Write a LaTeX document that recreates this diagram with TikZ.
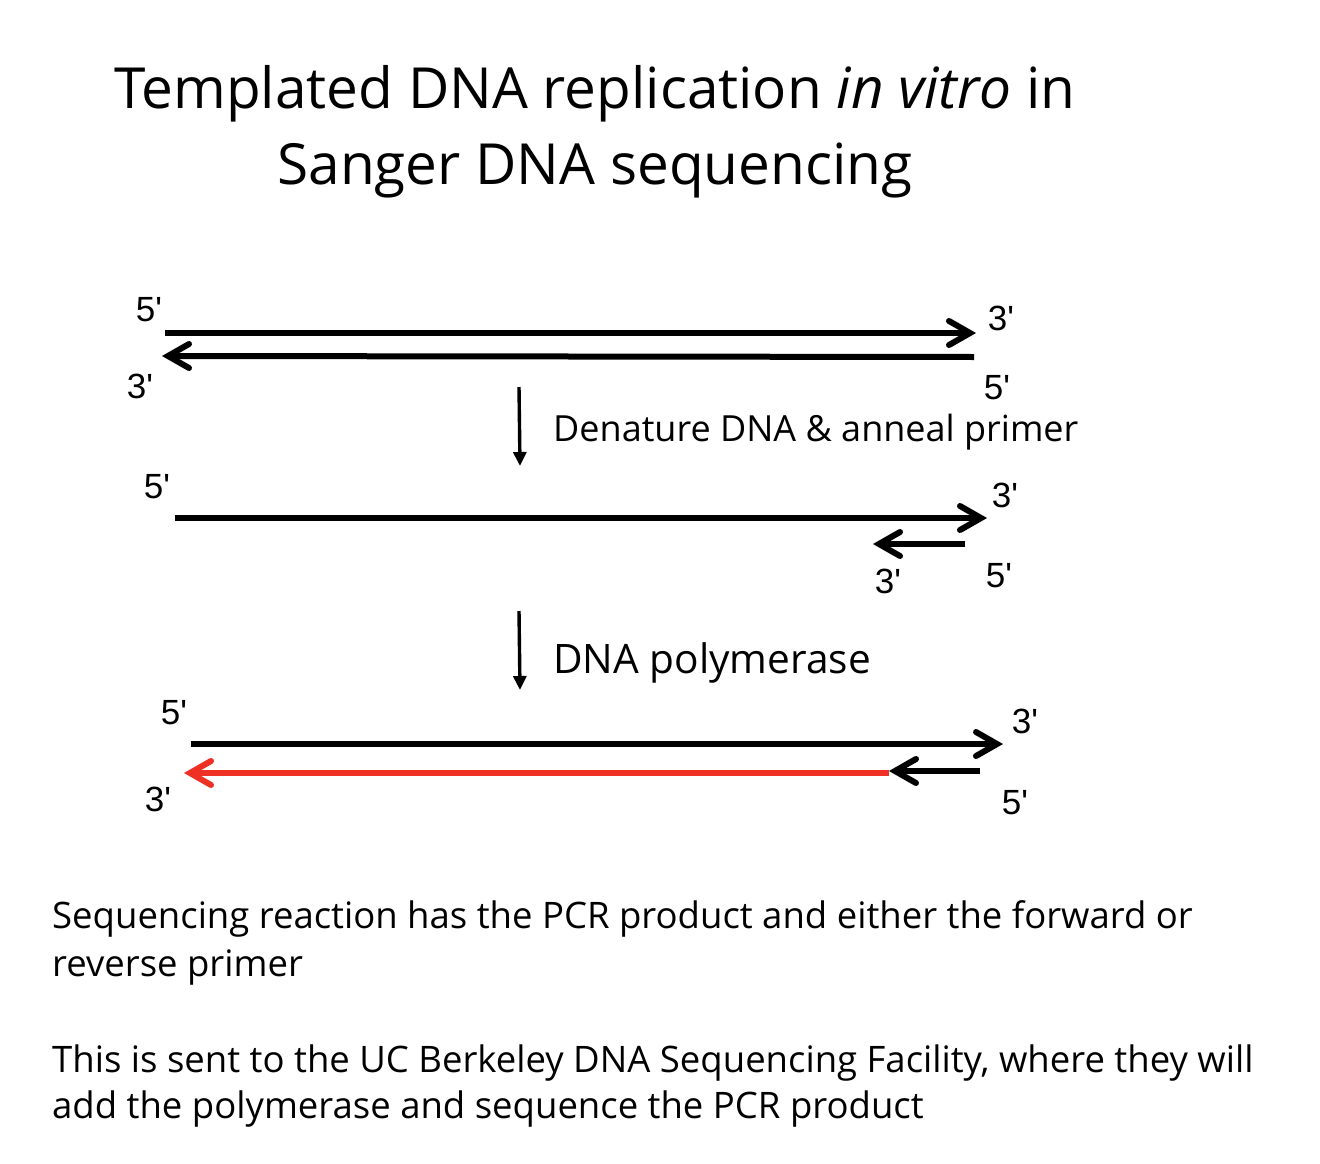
\documentclass[tikz,border=0pt]{standalone}
\usepackage{fontspec}
\setmainfont[Ligatures=NoCommon]{Open Sans}
\newfontfamily\labfont{Liberation Sans}
\usetikzlibrary{arrows.meta}
\definecolor{newred}{HTML}{EE3124}
\begin{document}
\begin{tikzpicture}[x=1pt,y=-1pt,
	strand/.style={line width=6pt},
	head/.style={line width=6pt,line cap=round,miter limit=10},
	lab/.style={font=\labfont\fontsize{35}{35}\selectfont,inner sep=0pt},
	steparrow/.style={line width=3.4pt,-{Triangle[width=13pt,length=14pt]}},
	steptext/.style={font=\fontsize{36}{36}\selectfont,inner sep=0pt,anchor=base west},
	note/.style={font=\fontsize{36.5}{36.5}\selectfont,inner sep=0pt,anchor=base west},
	titletext/.style={font=\fontsize{56.7}{56.7}\selectfont,inner sep=0pt,anchor=base}]
	\useasboundingbox (0,0) rectangle (1320,1164);
	% title
	\node[titletext] (title1) at (595,108) {Templated DNA replication \textit{in vitro} in};
	\node[titletext] (title2) at (595,184) {Sanger DNA sequencing};
	% duplex
	\coordinate (aL) at (165,333);
	\coordinate (aR) at (970,333);
	\coordinate (bR) at (974,357);
	\coordinate (bL) at (168,356);
	\draw[strand] (aL)-- (aR);
	\draw[head] (949,321)-- (aR)-- (949,345);
	\draw[strand] (bR)-- (bL);
	\draw[head] (189,344)-- (bL)-- (189,368);
	\node[lab] (a5) at (149,310) {5'};
	\node[lab] (a3) at (1001,318) {3'};
	\node[lab] (b3) at (140,386) {3'};
	\node[lab] (b5) at (997,388) {5'};
	% denature
	\coordinate (s1a) at (519,387);
	\coordinate (s1b) at (520,466);
	\draw[steparrow] (s1a)-- (s1b);
	\node[steptext] (t1) at (553,441) {Denature DNA \& anneal primer};
	% primer annealed
	\coordinate (cL) at (175,518);
	\coordinate (cR) at (981,518);
	\coordinate (pR) at (965,544);
	\coordinate (pL) at (879,544);
	\draw[strand] (cL)-- (cR);
	\draw[head] (960,506)-- (cR)-- (960,530);
	\draw[strand] (pR)-- (pL);
	\draw[head] (900,532)-- (pL)-- (900,556);
	\node[lab] (c5) at (157,487) {5'};
	\node[lab] (c3) at (1005,495) {3'};
	\node[lab] (p3) at (888,581) {3'};
	\node[lab] (p5) at (999,576) {5'};
	% polymerase
	\coordinate (s2a) at (519,611);
	\coordinate (s2b) at (520,690);
	\draw[steparrow] (s2a)-- (s2b);
	\node[steptext,font=\fontsize{40.6}{40.6}\selectfont] (t2) at (553,673) {DNA polymerase};
	% extended product
	\coordinate (dL) at (191,744);
	\coordinate (dR) at (997,744);
	\coordinate (qR) at (980,771);
	\coordinate (qL) at (895,771);
	\coordinate (rR) at (889,773);
	\coordinate (rL) at (190,773);
	\draw[strand] (dL)-- (dR);
	\draw[head] (976,732)-- (dR)-- (976,756);
	\draw[strand,newred] (rR)-- (rL);
	\draw[head,newred] (211,761)-- (rL)-- (211,785);
	\draw[strand] (qR)-- (qL);
	\draw[head] (916,759)-- (qL)-- (916,783);
	\node[lab] (d5) at (174,713) {5'};
	\node[lab] (d3) at (1025,721) {3'};
	\node[lab] (r3) at (158,799) {3'};
	\node[lab] (q5) at (1015,803) {5'};
	% notes
	\node[note] (n1) at (52,928) {Sequencing reaction has the PCR product and either the forward or};
	\node[note] (n2) at (52,976) {reverse primer};
	\node[note] (n3) at (52,1072) {This is sent to the UC Berkeley DNA Sequencing Facility, where they will};
	\node[note] (n4) at (52,1118) {add the polymerase and sequence the PCR product};
	\end{tikzpicture}
\end{document}
